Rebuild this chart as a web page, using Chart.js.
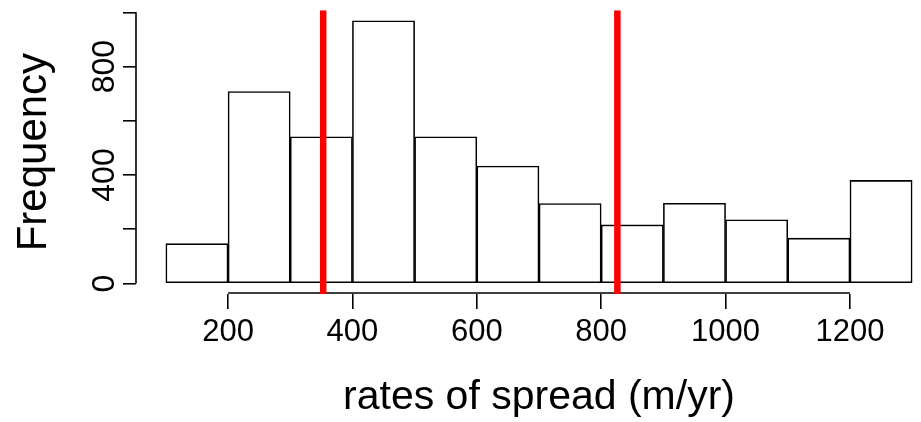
<!DOCTYPE html>
<html>
<head>
<meta charset="utf-8">
<script src="https://cdn.jsdelivr.net/npm/chart.js@4.4.1/dist/chart.umd.min.js"></script>
<style>
  html, body { margin: 0; padding: 0; background: #fff; overflow: hidden; }
  #wrap { width: 942px; height: 422px; }
</style>
</head>
<body>
<div id="wrap"><canvas id="hist" width="942" height="422"></canvas></div>
<script>
// histogram of rates of spread, R-style

const binEdges = [100, 200, 300, 400, 500, 600, 700, 800, 900, 1000, 1100, 1200, 1300];
const counts = [147, 708, 541, 969, 541, 433, 295, 216, 296, 235, 167, 380];
const cutoffs = [353, 826];          // red vertical lines
const xTicks = [200, 400, 600, 800, 1000, 1200];
const yTicks = [0, 200, 400, 600, 800, 1000];
const yLabelled = [0, 400, 800];

// R pads the range by 4% each side
const xLim = [52, 1348];
const yLim = [-38.76, 1007.76];

const FONT = "'Liberation Sans', Arial, sans-serif";

const barData = counts.map((c, i) => ({ x: (binEdges[i] + binEdges[i + 1]) / 2, y: c }));

const lineSets = cutoffs.map(v => ({
    type: 'line',
    data: [{ x: v, y: yLim[0] }, { x: v, y: yLim[1] }],
    borderColor: '#ff0000',
    borderWidth: 6.5,
    pointRadius: 0,
    order: 0
}));

// axis lines only from first to last tick, like R's axis()
const rAxes = {
    id: 'rAxes',
    beforeDatasetsDraw(chart) {
        const { ctx, chartArea } = chart;
        const sx = chart.scales.x, sy = chart.scales.y;
        ctx.save();
        ctx.strokeStyle = '#000';
        ctx.lineWidth = 1.6;
        ctx.beginPath();
        ctx.moveTo(sx.getPixelForValue(xTicks[0]), chartArea.bottom - 1);
        ctx.lineTo(sx.getPixelForValue(xTicks[xTicks.length - 1]), chartArea.bottom - 1);
        ctx.moveTo(chartArea.left, sy.getPixelForValue(yTicks[0]));
        ctx.lineTo(chartArea.left, sy.getPixelForValue(yTicks[yTicks.length - 1]));
        ctx.stroke();
        ctx.restore();
    }
};

new Chart(document.getElementById('hist'), {
    type: 'bar',
    data: {
        datasets: [
            ...lineSets,
            {
                type: 'bar',
                data: barData,
                backgroundColor: '#ffffff',
                borderColor: '#000000',
                borderWidth: 1.6,
                borderSkipped: false,
                barPercentage: 1,
                categoryPercentage: 1,
                order: 1
            }
        ]
    },
    options: {
        responsive: false,
        animation: false,
        layout: { padding: { top: 9, left: 0, right: 0, bottom: 0 } },
        plugins: { legend: { display: false }, tooltip: { enabled: false } },
        scales: {
            x: {
                type: 'linear',
                min: xLim[0],
                max: xLim[1],
                offset: false,
                afterFit: s => { s.height = 128; },
                border: { display: false },
                grid: { offset: false, drawOnChartArea: false, drawTicks: true, tickLength: 15, color: '#000', lineWidth: 1.6 },
                ticks: {
                    stepSize: 200,
                    includeBounds: false,
                    autoSkip: false,
                    maxRotation: 0,
                    padding: 5,
                    color: '#000',
                    font: { family: FONT, size: 31 },
                    callback: v => String(v)
                },
                title: {
                    display: true,
                    text: 'rates of spread (m/yr)',
                    color: '#000',
                    padding: 0,
                    font: { family: FONT, size: 41 }
                }
            },
            y: {
                type: 'linear',
                min: yLim[0],
                max: yLim[1],
                afterFit: s => { s.width = 136; },
                border: { display: false },
                grid: { drawOnChartArea: false, drawTicks: true, tickLength: 13, color: '#000', lineWidth: 1.6 },
                ticks: {
                    stepSize: 200,
                    includeBounds: false,
                    autoSkip: false,
                    minRotation: 90,
                    maxRotation: 90,
                    crossAlign: 'center',
                    padding: -9,
                    color: '#000',
                    font: { family: FONT, size: 32 },
                    callback: v => (yLabelled.includes(v) ? String(v) : '')
                },
                title: {
                    display: true,
                    text: 'Frequency',
                    color: '#000',
                    padding: { top: 9, bottom: 0 },
                    font: { family: FONT, size: 42 }
                }
            }
        }
    },
    plugins: [rAxes]
});
</script>
</body>
</html>
